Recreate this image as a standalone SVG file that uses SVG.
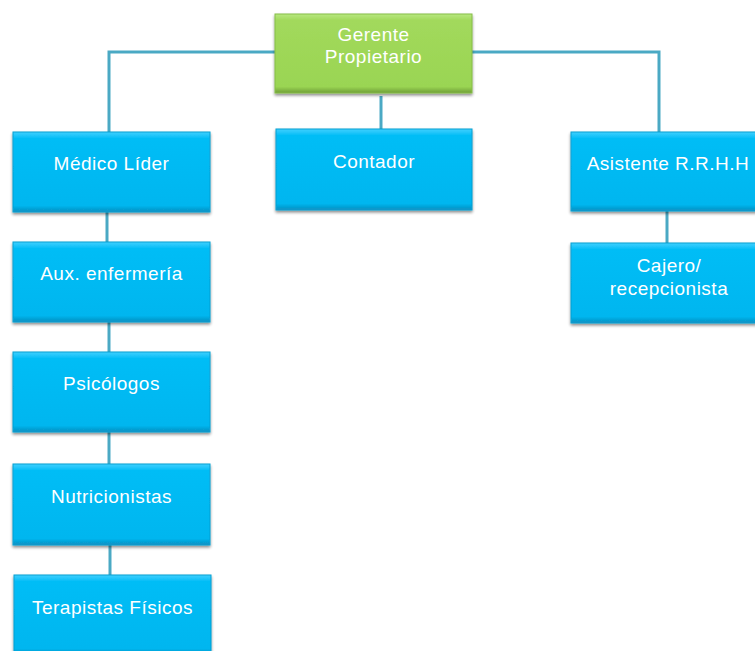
<svg xmlns="http://www.w3.org/2000/svg" width="755" height="651" viewBox="0 0 755 651">
<defs>
<linearGradient id="gb" x1="0" y1="0" x2="0" y2="1">
<stop offset="0" stop-color="#3fd0ff"/><stop offset="0.08" stop-color="#06bdf6"/><stop offset="0.92" stop-color="#00b6ef"/><stop offset="1" stop-color="#0a8fc0"/>
</linearGradient>
<linearGradient id="gg" x1="0" y1="0" x2="0" y2="1">
<stop offset="0" stop-color="#b8e880"/><stop offset="0.08" stop-color="#a2d95c"/><stop offset="0.92" stop-color="#9ad553"/><stop offset="1" stop-color="#6f9e38"/>
</linearGradient>
<filter id="sh" x="-10%" y="-10%" width="120%" height="130%">
<feGaussianBlur in="SourceAlpha" stdDeviation="1.5"/>
<feOffset dx="0" dy="2" result="b"/>
<feComponentTransfer><feFuncA type="linear" slope="0.45"/></feComponentTransfer>
<feMerge><feMergeNode/><feMergeNode in="SourceGraphic"/></feMerge>
</filter>
</defs>
<style>
.b{fill:url(#gb);stroke:#0b9fd2;stroke-width:1;filter:url(#sh)}
.g{fill:url(#gg);stroke:#86bd48;stroke-width:1;filter:url(#sh)}
.t{font-family:"Liberation Sans",Arial,sans-serif;font-size:19px;letter-spacing:0.5px;fill:#ffffff;text-anchor:middle}
.c{stroke:#4aa9c4;stroke-width:3;fill:none}
</style>
<g id="connectors">
<polyline class="c" points="275,52 109,52 109,132"/>
<polyline class="c" points="472,52 659,52 659,132"/>
<line class="c" x1="381" y1="96" x2="381" y2="129"/>
<line class="c" x1="107" y1="212" x2="107" y2="242"/>
<line class="c" x1="109" y1="322" x2="109" y2="352"/>
<line class="c" x1="109" y1="432" x2="109" y2="464"/>
<line class="c" x1="110" y1="545" x2="110" y2="575"/>
<line class="c" x1="667" y1="211" x2="667" y2="243"/>
</g>
<g id="gerente"><rect class="g" x="275" y="14" width="197" height="79"/><text class="t" x="373.5" y="41">Gerente</text><text class="t" x="373.5" y="63">Propietario</text></g>
<g id="contador"><rect class="b" x="276" y="129" width="196" height="81"/><text class="t" x="374" y="168">Contador</text></g>
<g id="medico"><rect class="b" x="13" y="132" width="197" height="80"/><text class="t" x="111.5" y="170">Médico Líder</text></g>
<g id="aux"><rect class="b" x="13" y="242" width="197" height="80"/><text class="t" x="111.5" y="280">Aux. enfermería</text></g>
<g id="psicologos"><rect class="b" x="13" y="352" width="197" height="80"/><text class="t" x="111.5" y="390">Psicólogos</text></g>
<g id="nutricionistas"><rect class="b" x="13" y="464" width="197" height="81"/><text class="t" x="111.5" y="503">Nutricionistas</text></g>
<g id="terapistas"><rect class="b" x="14" y="575" width="197" height="80"/><text class="t" x="112.5" y="614">Terapistas Físicos</text></g>
<g id="asistente"><rect class="b" x="571" y="132" width="200" height="79"/><text class="t" x="668" y="170">Asistente R.R.H.H</text></g>
<g id="cajero"><rect class="b" x="571" y="243" width="200" height="80"/><text class="t" x="669" y="272">Cajero/</text><text class="t" x="669" y="295">recepcionista</text></g>
</svg>
